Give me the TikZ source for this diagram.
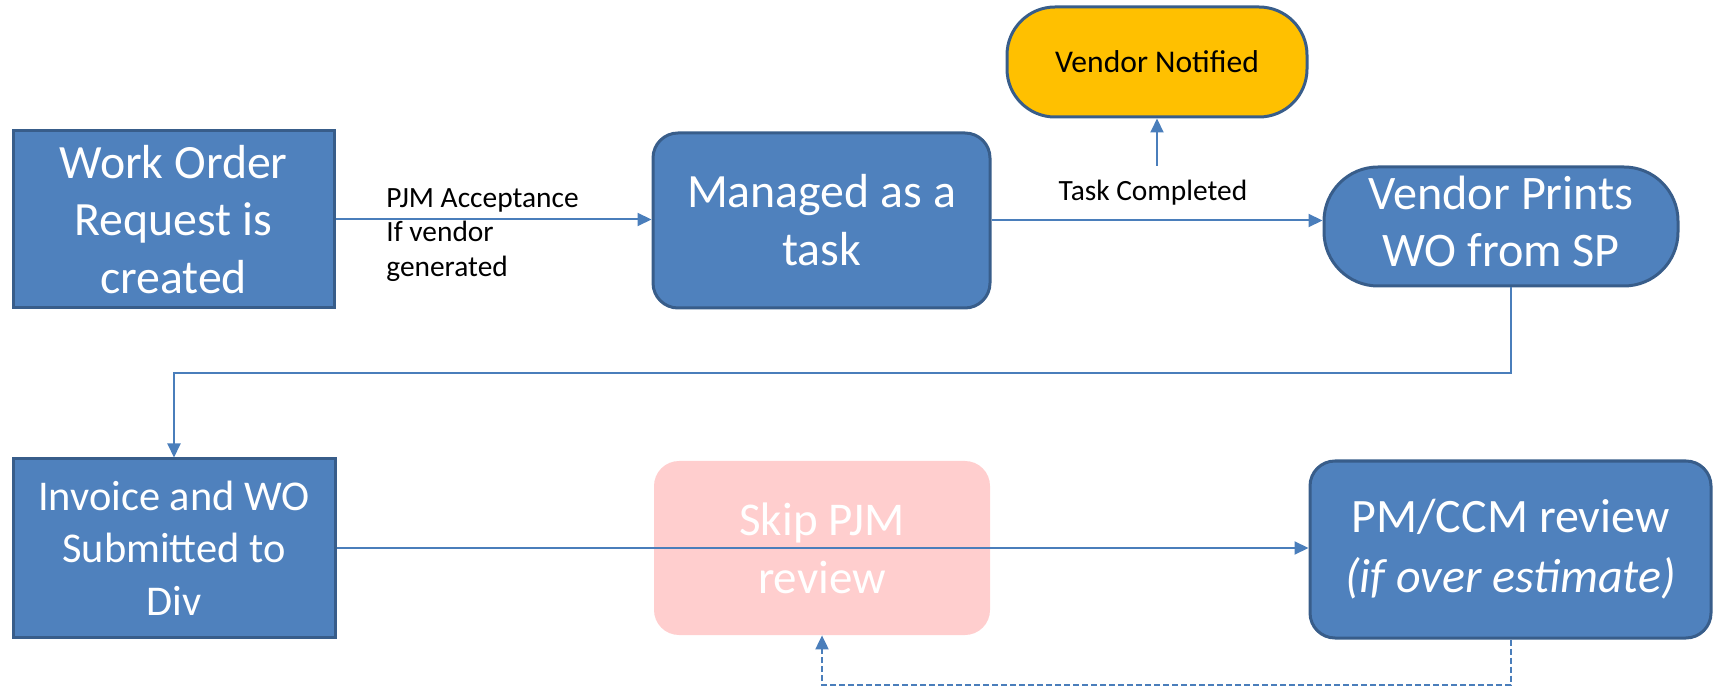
\documentclass[tikz,border=0pt]{standalone}
\usepackage{fontspec}
\setmainfont{Carlito}
\usetikzlibrary{arrows.meta}
\definecolor{boxfill}{RGB}{79,129,189}
\definecolor{boxline}{RGB}{56,93,138}
\definecolor{conn}{RGB}{74,126,187}
\definecolor{vnfill}{RGB}{255,192,0}
\definecolor{pinkfill}{RGB}{255,206,206}
\tikzset{
  bluebox/.style={draw=boxline, line width=1.5pt, fill=boxfill, text=white, align=center,
    inner sep=0pt, font=\fontsize{23.9}{28.8}\selectfont},
  pinkbox/.style={fill=pinkfill, text=white, align=center, inner sep=0pt,
    rounded corners=12.5pt, font=\fontsize{23.5}{29}\selectfont},
  vnbox/.style={draw=boxline, line width=1.5pt, fill=vnfill, text=black, align=center,
    inner sep=0pt, rounded corners=24pt, font=\fontsize{15.8}{19}\selectfont},
  lbl/.style={text=black, inner sep=0pt, font=\fontsize{14.7}{17.2}\selectfont},
  arr/.style={draw=conn, line width=1pt, -{Triangle[length=7pt,width=6.5pt]}},
}
\begin{document}
\begin{tikzpicture}[x=0.5pt,y=-0.5pt]
\useasboundingbox (0,0) rectangle (1713,689);
% nodes
\node[bluebox, minimum width=160.5pt, minimum height=88.5pt] (b1) at (173.5,219.5) {Work Order\\Request is\\created};
\node[bluebox, rounded corners=12.5pt, minimum width=168.5pt, minimum height=87.5pt, font=\fontsize{23.9}{29}\selectfont] (b2) at (821.5,220.5) {Managed as a\\task};
\node[vnbox, minimum width=150pt, minimum height=55pt] (vn) at (1157,62) {Vendor Notified};
\node[bluebox, rounded corners=27pt, minimum width=177pt, minimum height=59.5pt, font=\fontsize{24.1}{29}\selectfont] (b3) at (1501,226.5) {\raisebox{2pt}{\begin{tabular}{@{}c@{}}Vendor Prints\\[-0.5pt]WO from SP\end{tabular}}};
\node[bluebox, minimum width=161pt, minimum height=89pt, font=\fontsize{21.2}{26.3}\selectfont] (b4) at (174,548) {Invoice and WO\\Submitted to\\Div};
\node[pinkbox, minimum width=168pt, minimum height=87pt] (pk) at (822,548) {Skip PJM\\review};
\node[bluebox, rounded corners=12.5pt, minimum width=200.5pt, minimum height=88.5pt, font=\fontsize{24}{30}\selectfont] (b5) at (1510.5,549.5) {PM/CCM review\\\textit{(if over estimate)}};
% labels
\node[lbl, anchor=west, align=left] (l1) at (386,235) {PJM Acceptance\\If vendor\\generated};
\node[lbl] (l2) at (1153,193) {Task Completed};
% helper coordinates
\coordinate (tcs) at (1157,166);
\coordinate (mid) at (0,373);
\coordinate (bot) at (0,685);
% connectors
\draw[arr] (b1.east) -- (b1.east -| b2.west);
\draw[arr] (b2.east) -- (b2.east -| b3.west);
\draw[arr] (tcs) -- (vn.south);
\draw[arr] (b3.south -| b5.north) |- (mid -| b4.north) -- (b4.north);
\draw[arr] (b4.east) -- (b4.east -| b5.west);
\draw[arr, dash pattern=on 3pt off 1.5pt] (b5.south) |- (bot -| pk.south) -- (pk.south);
\end{tikzpicture}
\end{document}
